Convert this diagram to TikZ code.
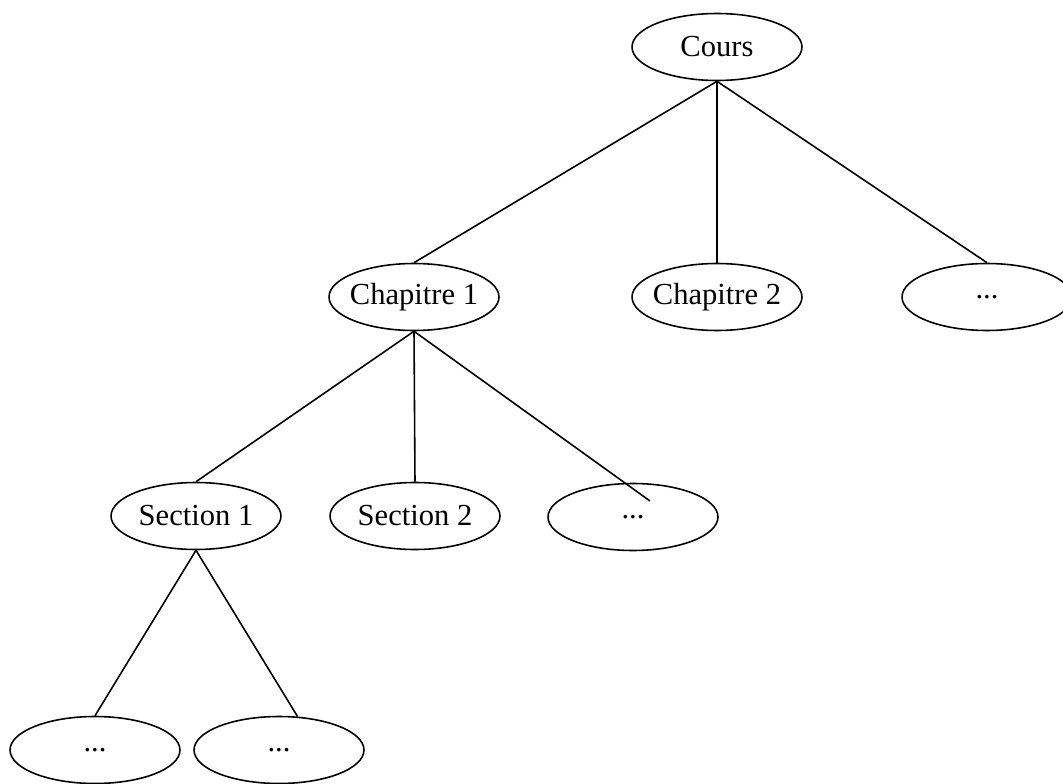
\documentclass[tikz,border=0pt]{standalone}
\usepackage{fontspec}
\setmainfont{Liberation Serif}
\usetikzlibrary{shapes.geometric}

\begin{document}
\begin{tikzpicture}[x=0.02cm, y=-0.02cm,
    noeud/.style={draw, ellipse, line width=0.9pt, minimum width=3.4cm, minimum height=1.34cm, inner xsep=-3pt, inner ysep=0pt, font=\fontsize{17.4}{20}\selectfont},
    lien/.style={line width=0.9pt}]
    \useasboundingbox (0,0) rectangle (1063,784);
    \clip (0,0) rectangle (1063,784);
    % Racine
    \node[noeud] (cours) at (717,47) {Cours};
    % Chapitres
    \node[noeud] (chap1) at (414,297) {Chapitre 1};
    \node[noeud] (chap2) at (717,297) {Chapitre 2};
    \node[noeud] (chapx) at (987,297) {...};
    % Sections
    \node[noeud] (sec1) at (196,516) {Section 1};
    \node[noeud] (sec2) at (415,516) {Section 2};
    \node[noeud] (secx) at (633,517) {...};
    % Sous-sections
    \node[noeud] (sous1) at (95,750) {...};
    \node[noeud] (sous2) at (279,750) {...};
    \coordinate (finx) at (650,501);

    % Liens
    \draw[lien] (cours.south) -- (chap1.north);
    \draw[lien] (cours.south) -- (chap2.north);
    \draw[lien] (cours.south) -- (chapx.north);
    \draw[lien] (chap1.south) -- (sec1.north);
    \draw[lien] (chap1.south) -- (sec2.north);
    \draw[lien] (chap1.south) -- (finx);
    \draw[lien] (sec1.south) -- (sous1.north);
    \draw[lien] (sec1.south) -- (sous2.61);
\end{tikzpicture}
\end{document}
